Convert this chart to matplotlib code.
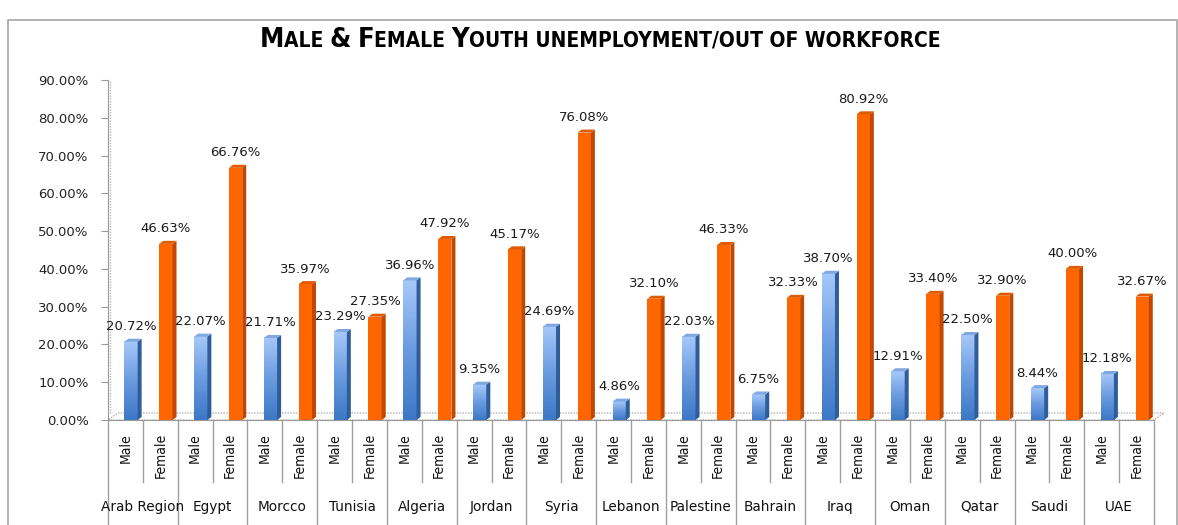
import numpy as np
import matplotlib
matplotlib.use("Agg")
import matplotlib.pyplot as plt
from matplotlib.patches import Polygon, Rectangle
from matplotlib.lines import Line2D

# data (percent)
countries = ["Arab Region", "Egypt", "Morcco", "Tunisia", "Algeria", "Jordan", "Syria",
             "Lebanon", "Palestine", "Bahrain", "Iraq", "Oman", "Qatar", "Saudi", "UAE"]
male = [20.72, 22.07, 21.71, 23.29, 36.96, 9.35, 24.69, 4.86, 22.03, 6.75, 38.70,
        12.91, 22.50, 8.44, 12.18]
female = [46.63, 66.76, 35.97, 27.35, 47.92, 45.17, 76.08, 32.10, 46.33, 32.33, 80.92,
          33.40, 32.90, 40.00, 32.67]
sub_labels = ["Male", "Female"]
yticks = [0, 10, 20, 30, 40, 50, 60, 70, 80, 90]

W, H = 1178, 525
fig = plt.figure(figsize=(W / 100, H / 100), dpi=100)
fig.patch.set_facecolor("white")

# outer chart border
fig.add_artist(Rectangle((8 / W, -0.05), (W - 9) / W, (H - 20) / H + 0.05,
                         transform=fig.transFigure, fill=False, ec="#a6a6a6", lw=1.2))

ax_l, ax_r, ax_b, ax_t = 108, 1154, 420, 80
ax = fig.add_axes([ax_l / W, 1 - ax_b / H, (ax_r - ax_l) / W, (ax_b - ax_t) / H])
ax.set_facecolor("none")

vals, kinds = [], []
for m, f in zip(male, female):
    vals += [m, f]
    kinds += ["m", "f"]
xpos = np.arange(len(vals))

px_x = (ax_r - ax_l) / len(vals)      # pixels per x unit
px_y = (ax_b - ax_t) / 90.0           # pixels per percent
dx = 4 / px_x                          # depth of side face
dy = 3 / px_y
off = 0.16
bw = 0.38

# floor
floor_dx, floor_dy = 10 / px_x, 7 / px_y
ax.add_patch(Polygon([(-0.5, 0), (len(vals) - 0.5, 0),
                      (len(vals) - 0.5 + floor_dx, floor_dy), (-0.5 + floor_dx, floor_dy)],
                     closed=True, fc="white", ec="#b0b0b0", lw=1, ls=(0, (1, 1)),
                     clip_on=False, zorder=1))
ax.plot([-0.5 + floor_dx * 0.2] * 2, [floor_dy, 90], color="#b8b8b8", lw=1,
        ls=(0, (1, 1)), zorder=1, clip_on=False)

grad = np.linspace(0, 1, 100).reshape(-1, 1)
blue_cmap = matplotlib.colors.LinearSegmentedColormap.from_list(
    "b", ["#3c78c6", "#6a9be0", "#a6c8fa"])

for x, v, k in zip(xpos, vals, kinds):
    x0 = x + off - bw / 2
    x1 = x + off + bw / 2
    if k == "f":
        ax.add_patch(Rectangle((x0, 0), bw, v, fc="#ff6600", ec="none", zorder=3))
        side, top = "#c04800", "#e05a00"
    else:
        ax.imshow(grad, extent=(x0, x1, 0, v), origin="lower", cmap=blue_cmap,
                  aspect="auto", zorder=3, interpolation="bilinear")
        side, top = "#2f5d9a", "#7fa8e0"
    ax.add_patch(Polygon([(x1, 0), (x1 + dx, dy), (x1 + dx, v + dy), (x1, v)],
                         closed=True, fc=side, ec="none", zorder=3))
    ax.add_patch(Polygon([(x0, v), (x1, v), (x1 + dx, v + dy), (x0 + dx, v + dy)],
                         closed=True, fc=top, ec="none", zorder=3))
    ax.annotate(f"{v:.2f}%", (x + off, v + dy), xytext=(0, 4), textcoords="offset points",
                ha="center", va="bottom", fontsize=9.5, color="#1a1a1a", zorder=5,
                annotation_clip=False)

ax.set_xlim(-0.5, len(vals) - 0.5)
ax.set_ylim(0, 90)
ax.set_yticks(yticks)
ax.set_yticklabels([f"{t:.2f}%" for t in yticks], fontsize=9.5, color="#222222")
ax.tick_params(axis="y", length=5, color="#999999", pad=9)
ax.set_xticks([])
for s in ["top", "right"]:
    ax.spines[s].set_visible(False)
ax.spines["left"].set_color("#999999")
ax.spines["bottom"].set_color("#999999")

# category table below axis
trans = ax.get_xaxis_transform()
for i in range(len(vals) + 1):
    major = i % 2 == 0
    y_end = -105 / (ax_b - ax_t) if major else -62 / (ax_b - ax_t)
    ax.add_artist(Line2D([i - 0.5, i - 0.5], [0, y_end], transform=trans, color="#a0a0a0",
                         lw=1, clip_on=False))
for i in range(len(vals)):
    ax.text(i, -13 / (ax_b - ax_t), sub_labels[i % 2], transform=trans, rotation=90,
            ha="center", va="top", fontsize=10, color="#111111",
            family="DejaVu Sans", fontstretch="condensed")
for j, c in enumerate(countries):
    ax.text(2 * j + 0.5, -87 / (ax_b - ax_t), c, transform=trans, ha="center",
            va="center", fontsize=9.8, color="#111111")

# title in small caps
title = "Male & Female Youth unemployment/out of workforce"
pieces = []
for word in title.split(" "):
    for ch in word:
        big = ch.isupper() or ch == "&"
        pieces.append((ch.upper(), 19.5 if big else 15))
    pieces.append((" ", 15))
pieces = pieces[:-1]
merged = []
for s, sz in pieces:
    if merged and merged[-1][1] == sz:
        merged[-1][0] += s
    else:
        merged.append([s, sz])
renderer = fig.canvas.get_renderer()
texts = []
for s, sz in merged:
    t = fig.text(0, 1 - 47 / H, s, fontsize=sz, fontweight="bold", family="DejaVu Sans",
                 fontstretch="condensed", ha="left", va="baseline", color="black")
    texts.append(t)
widths = [t.get_window_extent(renderer).width for t in texts]
total = sum(widths)
xcur = 600 - total / 2
for t, w in zip(texts, widths):
    t.set_x(xcur / W)
    xcur += w

fig.savefig("out.png", dpi=100, facecolor="white")
